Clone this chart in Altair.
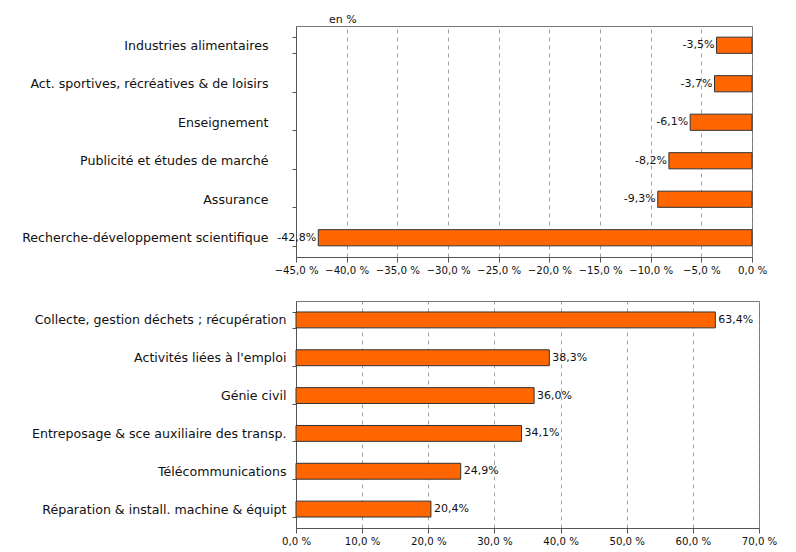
import altair as alt
import pandas as pd

top_cats = ["Industries alimentaires", "Act. sportives, récréatives & de loisirs", "Enseignement",
            "Publicité et études de marché", "Assurance", "Recherche-développement scientifique"]
top_vals = [-3.5, -3.7, -6.1, -8.2, -9.3, -42.8]
bot_cats = ["Collecte, gestion déchets ; récupération", "Activités liées à l'emploi", "Génie civil",
            "Entreposage & sce auxiliaire des transp.", "Télécommunications", "Réparation & install. machine & équipt"]
bot_vals = [63.4, 38.3, 36.0, 34.1, 24.9, 20.4]
top_ticks = [-45, -40, -35, -30, -25, -20, -15, -10, -5, 0]
bot_ticks = [0, 10, 20, 30, 40, 50, 60, 70]

FONT = "DejaVu Sans"
ORANGE = "#FF6600"

def fmt_label(v):
    return ("%.1f" % v).replace(".", ",") + "%"

top_df = pd.DataFrame({"cat": top_cats, "val": top_vals, "lab": [fmt_label(v) for v in top_vals]})
bot_df = pd.DataFrame({"cat": bot_cats, "val": bot_vals, "lab": [fmt_label(v) for v in bot_vals]})

label_expr = "replace(format(datum.value, '.1f'), '.', ',') + ' %'"

def panel(df, cats, ticks, domain, width, height, extent, pad, neg):
    x = alt.X("val:Q", scale=alt.Scale(domain=domain, nice=False),
              axis=alt.Axis(values=ticks, labelExpr=label_expr, title=None, grid=True,
                            gridDash=[4, 4], gridColor="#888888", gridWidth=0.8,
                            domainColor="#555555", tickColor="#555555", tickSize=5,
                            labelFont=FONT, labelFontSize=10.2, labelColor="#111111",
                            labelPadding=3, labelOverlap=False, labelFlush=False))
    y = alt.Y("cat:N", sort=cats,
              scale=alt.Scale(paddingInner=0.58, paddingOuter=0.29),
              axis=alt.Axis(title=None, tickBand="extent", tickSize=4, tickColor="#555555",
                            domainColor="#555555", labelFont=FONT, labelFontSize=12.6,
                            labelColor="#111111", labelPadding=pad, minExtent=extent,
                            maxExtent=extent, labelLimit=400, labelOverlap=False))
    bars = alt.Chart(df).mark_bar(color=ORANGE, stroke="#333333", strokeWidth=1).encode(
        x=x, x2=alt.datum(0), y=y)
    text = alt.Chart(df).mark_text(
        font=FONT, fontSize=11, color="#111111",
        align="right" if neg else "left", dx=-2 if neg else 3, baseline="middle"
    ).encode(x="val:Q", y=alt.Y("cat:N", sort=cats), text="lab:N")
    return alt.layer(bars, text).properties(width=width, height=height)

top = panel(top_df, top_cats, top_ticks, [-45, 0], 456, 231, 282, 24, True).properties(
    title=alt.TitleParams("en %", anchor="start", frame="group", dx=33, offset=-5, font=FONT,
                          fontSize=11, fontWeight="normal", color="#111111"))
bot = panel(bot_df, bot_cats, bot_ticks, [0, 70], 463, 227, 282, 6, False)

chart = alt.vconcat(top, bot, spacing=18).configure_view(
    stroke="#777777", strokeWidth=1
).configure_concat(spacing=18)

chart.save("out.html", embed_options={"renderer": "svg", "actions": False})
